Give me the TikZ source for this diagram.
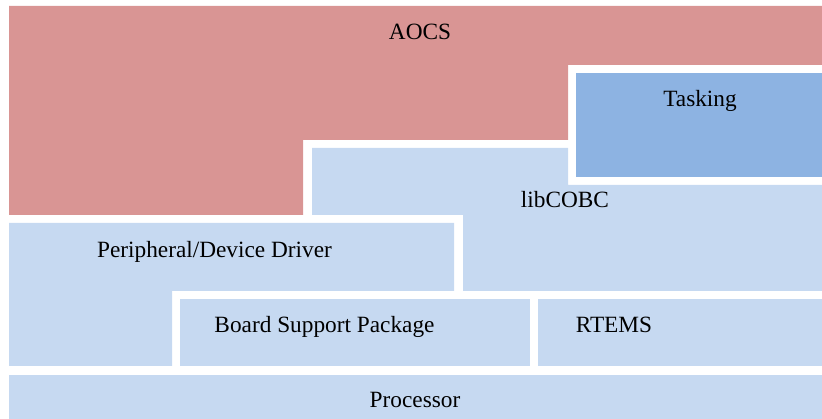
\documentclass[tikz,border=0pt]{standalone}
\usepackage{fontspec}
\setmainfont{Liberation Serif}
\definecolor{aocsred}{HTML}{D99594}
\definecolor{lightblu}{HTML}{C6D9F1}
\definecolor{taskblu}{HTML}{8DB3E2}
\begin{document}
\begin{tikzpicture}[x=1pt,y=-1pt,
  lbl/.style={anchor=base,inner sep=0pt,font=\fontsize{23.3}{28}\selectfont,text=black}]
\useasboundingbox (0,0) rectangle (822,419);
% AOCS
\fill[aocsred] (9,6) -- (822,6) -- (822,65) -- (568,65) -- (568,140) -- (303,140) -- (303,215) -- (9,215) -- cycle;
% Tasking
\fill[taskblu] (576,73) rectangle (822,177);
% libCOBC
\fill[lightblu] (312,148) -- (568,148) -- (568,185) -- (822,185) -- (822,291) -- (463,291) -- (463,215) -- (312,215) -- cycle;
% Peripheral/Device Driver
\fill[lightblu] (9,223) -- (454,223) -- (454,291) -- (172,291) -- (172,366) -- (9,366) -- cycle;
% Board Support Package
\fill[lightblu] (180,299) rectangle (530,366);
% RTEMS
\fill[lightblu] (538,299) rectangle (822,366);
% Processor
\fill[lightblu] (9,375) rectangle (822,419);
% labels
\node[lbl] (aocs) at (420,40) {AOCS};
\node[lbl] (tasking) at (700,107) {Tasking};
\node[lbl] (libcobc) at (565,208) {libCOBC};
\node[lbl] (periph) at (214.5,258) {Peripheral/Device Driver};
\node[lbl] (bsp) at (324.5,333) {Board Support Package};
\node[lbl] (rtems) at (614,333) {RTEMS};
\node[lbl] (proc) at (415,407) {Processor};
\end{tikzpicture}
\end{document}
